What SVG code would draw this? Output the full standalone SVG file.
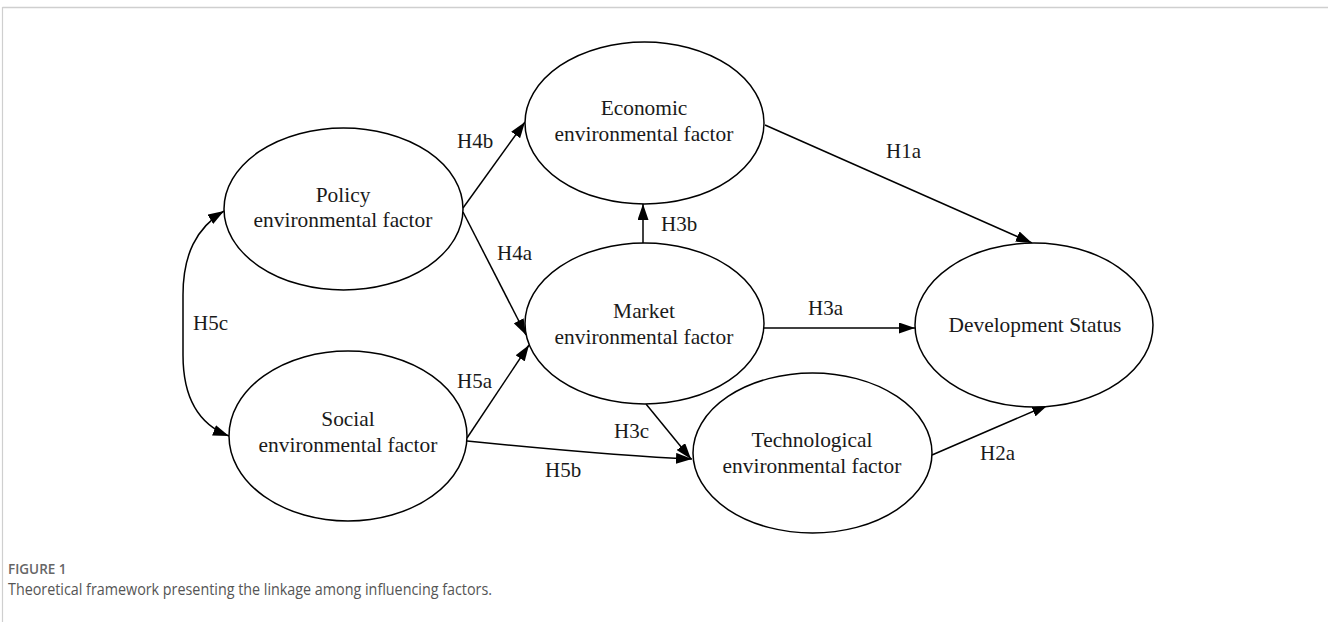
<svg xmlns="http://www.w3.org/2000/svg" width="1328" height="622" viewBox="0 0 1328 622">
<style>
.node ellipse{fill:#fff;stroke:#000;stroke-width:1.5}
.nt{font-family:"Liberation Serif","Times New Roman",serif;font-size:21.4px;fill:#1a1a1a;text-anchor:middle}
.lbl{font-family:"Liberation Serif","Times New Roman",serif;font-size:21px;fill:#1a1a1a}
.edge{fill:none;stroke:#000;stroke-width:1.5}
.cap1{font-family:"Open Sans","Liberation Sans",sans-serif;font-size:13.5px;font-weight:600;fill:#666}
.cap2{font-family:"Open Sans","Liberation Sans",sans-serif;font-size:17px;fill:#555}
</style>
<defs>
<marker id="ah" markerUnits="userSpaceOnUse" markerWidth="16" markerHeight="11" refX="16" refY="5.5" orient="auto-start-reverse" viewBox="0 0 16 11">
<path d="M0,0 L16,5.5 L0,11 z" fill="#000"/>
</marker>
</defs>
<rect width="1328" height="622" fill="#fff"/>
<g id="frame">
<line x1="2.5" y1="7.5" x2="1328" y2="7.5" stroke="#cfcfcf" stroke-width="1.5"/>
<line x1="2.5" y1="7" x2="2.5" y2="622" stroke="#cfcfcf" stroke-width="1.2"/>
</g>
<g id="connectors">
<path class="edge" d="M463,208 L525,122" marker-end="url(#ah)"/>
<path class="edge" d="M463,212 L526,335" marker-end="url(#ah)"/>
<path class="edge" d="M467,438 L529,345" marker-end="url(#ah)"/>
<path class="edge" d="M467,441 Q617,456 692,459" marker-end="url(#ah)"/>
<path class="edge" d="M646,404 L691,459" marker-end="url(#ah)"/>
<path class="edge" d="M643,243 L643,204" marker-end="url(#ah)"/>
<path class="edge" d="M764,328 L915,328" marker-end="url(#ah)"/>
<path class="edge" d="M765,125 L1032,243" marker-end="url(#ah)"/>
<path class="edge" d="M932,455 L1048,405" marker-end="url(#ah)"/>
<path class="edge" d="M224,211 C196,228 183,255 183,295 L183,355 C183,400 200,425 229,436" marker-start="url(#ah)" marker-end="url(#ah)"/>
<text class="lbl" x="457" y="148">H4b</text>
<text class="lbl" x="497" y="260">H4a</text>
<text class="lbl" x="661" y="231">H3b</text>
<text class="lbl" x="886" y="158">H1a</text>
<text class="lbl" x="193" y="330">H5c</text>
<text class="lbl" x="457" y="388">H5a</text>
<text class="lbl" x="808" y="315">H3a</text>
<text class="lbl" x="614" y="438">H3c</text>
<text class="lbl" x="545" y="477">H5b</text>
<text class="lbl" x="980" y="460">H2a</text>
</g>
<g id="policy" class="node">
<ellipse cx="343.5" cy="209" rx="119.5" ry="81"/>
<text class="nt" x="343" y="202">Policy</text>
<text class="nt" x="343" y="227">environmental factor</text>
</g>
<g id="economic" class="node">
<ellipse cx="644.5" cy="123" rx="119.5" ry="81"/>
<text class="nt" x="644" y="115">Economic</text>
<text class="nt" x="644" y="141">environmental factor</text>
</g>
<g id="market" class="node">
<ellipse cx="644.5" cy="323.5" rx="119.5" ry="80.5"/>
<text class="nt" x="644" y="318">Market</text>
<text class="nt" x="644" y="344">environmental factor</text>
</g>
<g id="social" class="node">
<ellipse cx="348" cy="436" rx="119" ry="85"/>
<text class="nt" x="348" y="426">Social</text>
<text class="nt" x="348" y="452">environmental factor</text>
</g>
<g id="technological" class="node">
<ellipse cx="812.5" cy="453" rx="119.5" ry="80"/>
<text class="nt" x="812" y="447">Technological</text>
<text class="nt" x="812" y="473">environmental factor</text>
</g>
<g id="development" class="node">
<ellipse cx="1034" cy="325" rx="119" ry="82"/>
<text class="nt" x="1035" y="332">Development Status</text>
</g>
<g id="caption">
<text class="cap1" x="8" y="574">FIGURE 1</text>
<text class="cap2" x="8" y="595" textLength="484" lengthAdjust="spacingAndGlyphs">Theoretical framework presenting the linkage among influencing factors.</text>
</g>
</svg>
